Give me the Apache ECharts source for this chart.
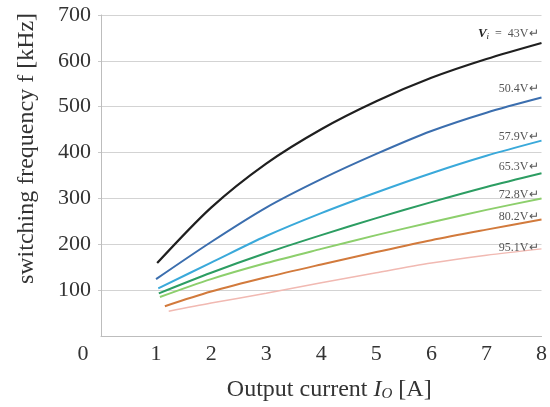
<!DOCTYPE html>
<html>
<head>
<meta charset="utf-8">
<script src="https://cdn.jsdelivr.net/npm/echarts@6/dist/echarts.min.js"></script>
<style>
  html, body { margin: 0; padding: 0; background: #fff; }
  #chart { width: 550px; height: 407px; }
</style>
</head>
<body>
<div id="chart"></div>
<script>
// 输入电压 (每条曲线一个)
const voltages = ['43V', '50.4V', '57.9V', '65.3V', '72.8V', '80.2V', '95.1V'];
// 每条曲线起点电流 [A]
const startCurrent = [1.02, 1.0, 1.04, 1.05, 1.07, 1.16, 1.23];
// 后续采样点电流 [A]
const currents = [2, 3, 4, 5, 6, 7, 8];
// 开关频率 [kHz], 第一个值对应起点电流
const f43 = [159, 280, 376, 451, 512, 563, 604, 639];
const f504 = [124, 205, 280, 342, 397, 447, 487, 520];
const f579 = [104, 160, 218, 268, 313, 355, 393, 426];
const f653 = [93, 138, 181, 220, 257, 292, 325, 355];
const f728 = [85, 124, 159, 190, 220, 248, 275, 300];
const f802 = [65, 97, 128, 156, 183, 209, 232, 254];
const f951 = [54, 72, 93, 116, 138, 159, 176, 190];
const xTicks = ['0', '1', '2', '3', '4', '5', '6', '7', '8'];

const freqs = [f43, f504, f579, f653, f728, f802, f951];
const colors = ['#1f1f1f', '#3b6eae', '#3aa9da', '#2c9d62', '#8dcf6c', '#d27a3c', '#f1b9b2'];
const widths = [2.2, 2, 2, 2, 2, 2, 1.5];
const labelDy = [-9, -9, -4, -6, -4, -3, -1];
const serif = 'Liberation Serif';

const toPoints = (i) => freqs[i].map((v, k) => [k === 0 ? startCurrent[i] : currents[k - 1], v]);

let mychart = echarts.init(document.getElementById('chart'));
mychart.setOption({
  animation: false,
  grid: { left: 101, right: 2, top: 15, bottom: 71 },
  xAxis: {
    type: 'value',
    min: 0, max: 8, interval: 1,
    name: '{t|Output current }{i|I}{s|O}{t| [A]}',
    nameLocation: 'middle',
    nameGap: 41,
    nameTextStyle: {
      padding: [0, 0, 0, 16],
      rich: {
        t: { fontFamily: serif, fontSize: 24, color: '#333' },
        i: { fontFamily: serif, fontSize: 24, fontStyle: 'italic', color: '#333' },
        s: { fontFamily: serif, fontSize: 15, fontStyle: 'italic', color: '#333', verticalAlign: 'bottom', padding: [10, 0, 0, 0] }
      }
    },
    splitLine: { show: false },
    axisTick: { show: false },
    axisLine: { lineStyle: { color: '#bdbdbd', width: 1 } },
    axisLabel: {
      margin: 7,
      fontFamily: serif, fontSize: 22, color: '#333',
      formatter: (v) => (v === 0 ? '{z|' + xTicks[0] + '}' : xTicks[v]),
      rich: { z: { fontFamily: serif, fontSize: 22, color: '#333', padding: [0, 36, 0, 0] } }
    }
  },
  yAxis: {
    type: 'value',
    min: 0, max: 700, interval: 100,
    name: 'switching frequency f [kHz]',
    nameLocation: 'middle',
    nameRotate: 90,
    nameGap: 62,
    nameTextStyle: { fontFamily: serif, fontSize: 24, color: '#333', padding: [0, 0, 0, 54] },
    axisLine: { show: true, lineStyle: { color: '#bdbdbd', width: 1 } },
    axisTick: { show: true, length: 3, lineStyle: { color: '#c8c8c8' } },
    splitLine: { lineStyle: { color: '#d3d3d3', width: 1 } },
    axisLabel: { showMinLabel: false, margin: 10, fontFamily: serif, fontSize: 22, color: '#333' }
  },
  series: voltages.map((v, i) => ({
    name: v,
    type: 'line',
    smooth: 0.3,
    symbol: 'none',
    data: toPoints(i),
    lineStyle: { color: colors[i], width: widths[i] },
    endLabel: {
      show: true,
      align: 'right',
      distance: 0,
      offset: [-3, labelDy[i]],
      fontFamily: serif,
      fontSize: 12,
      color: '#555',
      formatter: i === 0 ? '{b|V}{s|i}{t|  =  ' + v + '↵}' : v + '↵',
      rich: {
        b: { fontFamily: serif, fontSize: 13, fontWeight: 'bold', fontStyle: 'italic', color: '#222' },
        s: { fontFamily: serif, fontSize: 9, fontStyle: 'italic', color: '#222', verticalAlign: 'bottom', padding: [5, 0, 0, 0] },
        t: { fontFamily: serif, fontSize: 12, color: '#555' }
      }
    }
  }))
});
</script>
</body>
</html>
